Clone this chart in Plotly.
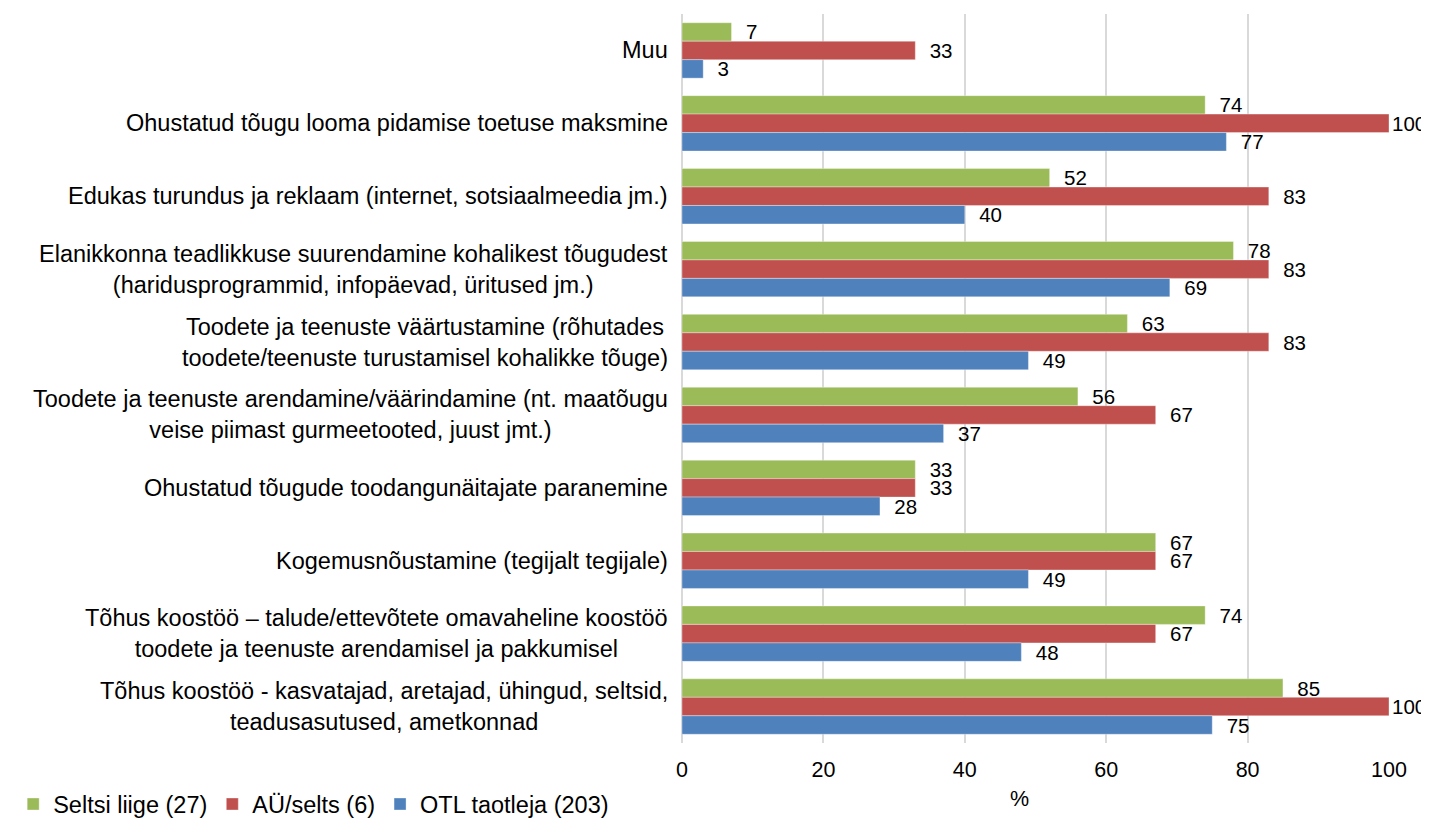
import plotly.graph_objects as go

categories = [
    "Muu",
    "Ohustatud tõugu looma pidamise toetuse maksmine",
    "Edukas turundus ja reklaam (internet, sotsiaalmeedia jm.)",
    "Elanikkonna teadlikkuse suurendamine kohalikest tõugudest<br>(haridusprogrammid, infopäevad, üritused jm.)",
    "Toodete ja teenuste väärtustamine (rõhutades<br>toodete/teenuste turustamisel kohalikke tõuge)",
    "Toodete ja teenuste arendamine/väärindamine (nt. maatõugu<br>veise piimast gurmeetooted, juust jmt.)",
    "Ohustatud tõugude toodangunäitajate paranemine",
    "Kogemusnõustamine (tegijalt tegijale)",
    "Tõhus koostöö – talude/ettevõtete omavaheline koostöö<br>toodete ja teenuste arendamisel ja pakkumisel",
    "Tõhus koostöö - kasvatajad, aretajad, ühingud, seltsid,<br>teadusasutused, ametkonnad",
]
seltsi_liige = [7, 74, 52, 78, 63, 56, 33, 67, 74, 85]
ay_selts = [33, 100, 83, 83, 83, 67, 33, 67, 67, 100]
otl_taotleja = [3, 77, 40, 69, 49, 37, 28, 49, 48, 75]
series_names = ["Seltsi liige (27)", "AÜ/selts (6)", "OTL taotleja (203)"]
colors = ["#9BBB59", "#C0504D", "#4F81BD"]
x_ticks = [0, 20, 40, 60, 80, 100]
x_max = 100

FONT = "Liberation Sans, Arial, sans-serif"
FS_CAT = 23.5
FS_LBL = 20.5
FS_TICK = 21.5

NB = "\u00a0"


def label(v):
    return str(v) if v >= x_max else NB + NB + str(v)


fig = go.Figure()
for name, vals, col in zip(series_names, [seltsi_liige, ay_selts, otl_taotleja], colors):
    fig.add_trace(go.Bar(
        y=list(range(len(categories))), x=vals, name=name, orientation="h",
        marker=dict(color=col, line=dict(color="rgba(255,255,255,0.35)", width=1)),
        text=[label(v) for v in vals], textposition="outside", cliponaxis=False,
        constraintext="none",
        textfont=dict(family=FONT, size=FS_LBL, color="#000000"),
    ))

for i, c in enumerate(categories):
    fig.add_annotation(
        x=0, xref="paper", y=i, yref="y", text=c, showarrow=False,
        xanchor="right", yanchor="middle", align="center", xshift=-12,
        font=dict(family=FONT, size=FS_CAT, color="#000000"),
    )

fig.add_annotation(
    x=0.478, xref="paper", y=-0.0774, yref="paper", text="%", showarrow=False,
    xanchor="center", yanchor="middle", font=dict(family=FONT, size=FS_TICK, color="#000000"),
)

fig.update_layout(
    width=1429, height=834,
    margin=dict(l=674, r=48, t=5.5, b=98.5, autoexpand=False),
    plot_bgcolor="white", paper_bgcolor="white",
    barmode="group", bargap=0.24, bargroupgap=0,
    font=dict(family=FONT, size=FS_TICK, color="#000000"),
    xaxis=dict(range=[0, x_max], tickvals=x_ticks, showgrid=True, gridcolor="#D9D9D9",
               gridwidth=2, zeroline=True, zerolinecolor="#D9D9D9", zerolinewidth=2,
               ticks="outside", ticklen=7, tickcolor="rgba(0,0,0,0)",
               tickfont=dict(family=FONT, size=FS_TICK)),
    yaxis=dict(autorange="reversed", showticklabels=False, showgrid=False, zeroline=False),
    legend=dict(orientation="h", x=-0.946, xanchor="left", y=-0.084, yanchor="middle",
                font=dict(family=FONT, size=FS_CAT), traceorder="normal"),
)

fig.write_html("out.html")
